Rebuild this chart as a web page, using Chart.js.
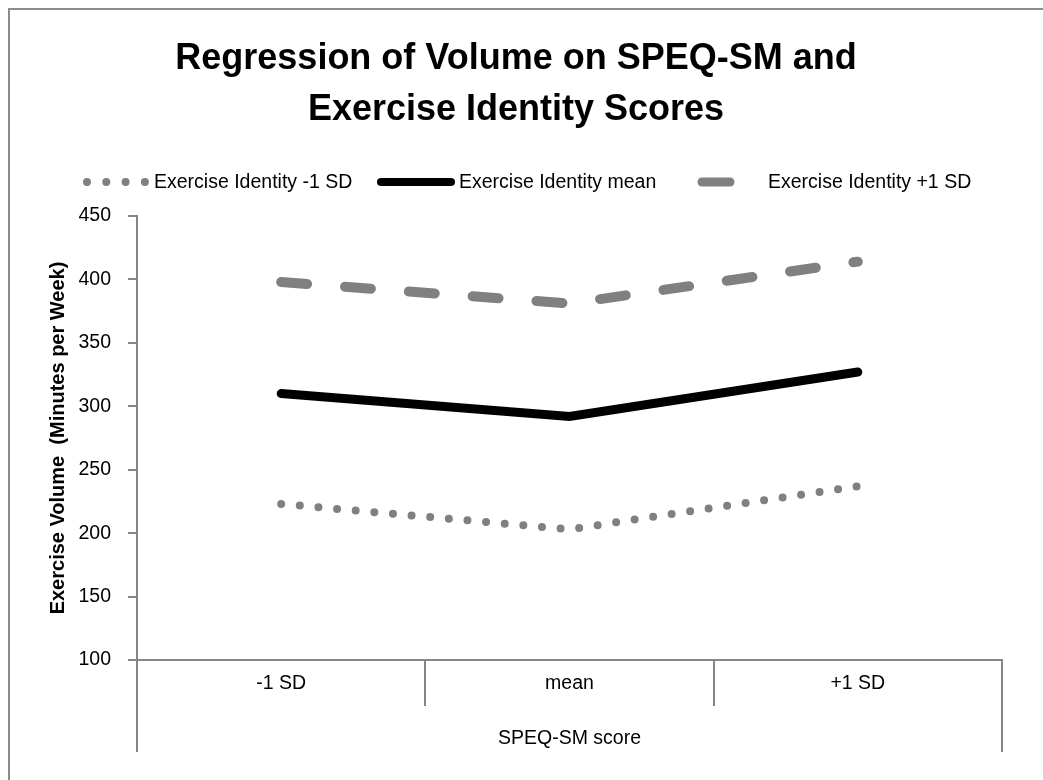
<!DOCTYPE html>
<html>
<head>
<meta charset="utf-8">
<script src="https://cdn.jsdelivr.net/npm/chart.js@4/dist/chart.umd.min.js"></script>
<style>
  html, body { margin: 0; padding: 0; background: #fff; }
  canvas { display: block; }
</style>
</head>
<body>
<canvas id="chart" width="1043" height="780"></canvas>
<script>
// Values
const categories = ["-1 SD", "mean", "+1 SD"];
const seriesNames = ["Exercise Identity -1 SD", "Exercise Identity mean", "Exercise Identity +1 SD"];
const lowIdentity = [223, 203, 237];
const meanIdentity = [310, 292, 327];
const highIdentity = [398, 381, 414];
const yMin = 100;
const yMax = 450;
const yStep = 50;
const titleLines = ["Regression of Volume on SPEQ-SM and", "Exercise Identity Scores"];
const yTitle = "Exercise Volume  (Minutes per Week)";
const xTitle = "SPEQ-SM score";

const FONT = "'Liberation Sans', Arial, sans-serif";
const AXIS = "#868686";
const GRAY = "#808080";

// legend layout (sample start, sample length, text x) — mimics the Excel legend
const legendLayout = [
  { x: 87, len: 58, textX: 154 },
  { x: 381, len: 70, textX: 459 },
  { x: 702, len: 28, textX: 768 },
];

const frame = {
  id: "frame",
  beforeDraw(chart) {
    const { ctx } = chart;
    ctx.save();
    ctx.fillStyle = "#fff";
    ctx.fillRect(0, 0, chart.width, chart.height);
    ctx.fillStyle = "#8c8c8c";
    ctx.fillRect(8, 8, 2, chart.height);
    ctx.fillRect(8, 8, chart.width, 2);
    ctx.restore();
  },
};

const lineLegend = {
  id: "lineLegend",
  afterDraw(chart) {
    const { ctx } = chart;
    const y = 182;
    ctx.save();
    chart.data.datasets.forEach((ds, i) => {
      const l = legendLayout[i];
      ctx.beginPath();
      ctx.strokeStyle = ds.borderColor;
      ctx.lineWidth = ds.legendWidth;
      ctx.lineCap = "round";
      ctx.setLineDash(ds.legendDash || []);
      ctx.moveTo(l.x, y);
      ctx.lineTo(l.x + l.len, y);
      ctx.stroke();
      ctx.setLineDash([]);
      ctx.fillStyle = "#000";
      ctx.font = `19.5px ${FONT}`;
      ctx.textBaseline = "middle";
      ctx.textAlign = "left";
      ctx.fillText(ds.label, l.textX, y + 1);
    });
    ctx.restore();
  },
};

// the outer category divider lines run down past the labels to the axis title row
const categoryFrame = {
  id: "categoryFrame",
  afterDraw(chart) {
    const x = chart.scales.x;
    const { ctx } = chart;
    ctx.save();
    ctx.strokeStyle = AXIS;
    ctx.lineWidth = 2;
    ctx.beginPath();
    [x.left, x.right].forEach((px) => {
      ctx.moveTo(px, x.top + 45);
      ctx.lineTo(px, x.bottom - 8);
    });
    ctx.stroke();
    ctx.restore();
  },
};

new Chart(document.getElementById("chart"), {
  type: "line",
  data: {
    labels: categories,
    datasets: [
      {
        label: seriesNames[0],
        data: lowIdentity,
        borderColor: GRAY,
        borderWidth: 8,
        borderDash: [0, 18.7],
        borderCapStyle: "round",
        legendWidth: 8,
        legendDash: [0, 19.3],
      },
      {
        label: seriesNames[1],
        data: meanIdentity,
        borderColor: "#000",
        borderWidth: 9,
        borderCapStyle: "round",
        legendWidth: 8,
      },
      {
        label: seriesNames[2],
        data: highIdentity,
        borderColor: GRAY,
        borderWidth: 10,
        borderDash: [26, 38],
        borderCapStyle: "round",
        legendWidth: 9,
      },
    ].map((d) => ({ ...d, pointRadius: 0, pointHoverRadius: 0, tension: 0, fill: false })),
  },
  options: {
    responsive: false,
    animation: false,
    layout: { padding: { top: 0, left: 30, right: 41, bottom: 20 } },
    plugins: {
      legend: { display: false },
      tooltip: { enabled: false },
      title: {
        display: true,
        text: titleLines,
        color: "#000",
        font: { family: FONT, size: 36, weight: "bold", lineHeight: 51 / 36 },
        padding: { top: 34, bottom: 80 },
      },
    },
    scales: {
      x: {
        offset: true,
        grid: { display: true, offset: true, drawOnChartArea: false, drawTicks: true, tickLength: 46, color: AXIS, lineWidth: 2 },
        border: { color: AXIS, width: 2 },
        ticks: { padding: -34, color: "#000", font: { family: FONT, size: 19.5 }, maxRotation: 0 },
        title: { display: true, text: xTitle, color: "#000", font: { family: FONT, size: 19.5 }, padding: { top: 0, bottom: 10 } },
        afterFit: (s) => { s.height = 100; },
      },
      y: {
        min: yMin,
        max: yMax,
        ticks: { stepSize: yStep, padding: 17, color: "#000", font: { family: FONT, size: 19.5 } },
        grid: { drawOnChartArea: false, drawTicks: true, tickLength: 9, color: AXIS, lineWidth: 2 },
        border: { color: AXIS, width: 2 },
        title: { display: true, text: yTitle, color: "#000", font: { family: FONT, size: 20, weight: "bold" }, padding: { top: 16, bottom: 0 } },
        afterFit: (s) => { s.width = 107; },
      },
    },
  },
  plugins: [frame, lineLegend, categoryFrame],
});
</script>
</body>
</html>
